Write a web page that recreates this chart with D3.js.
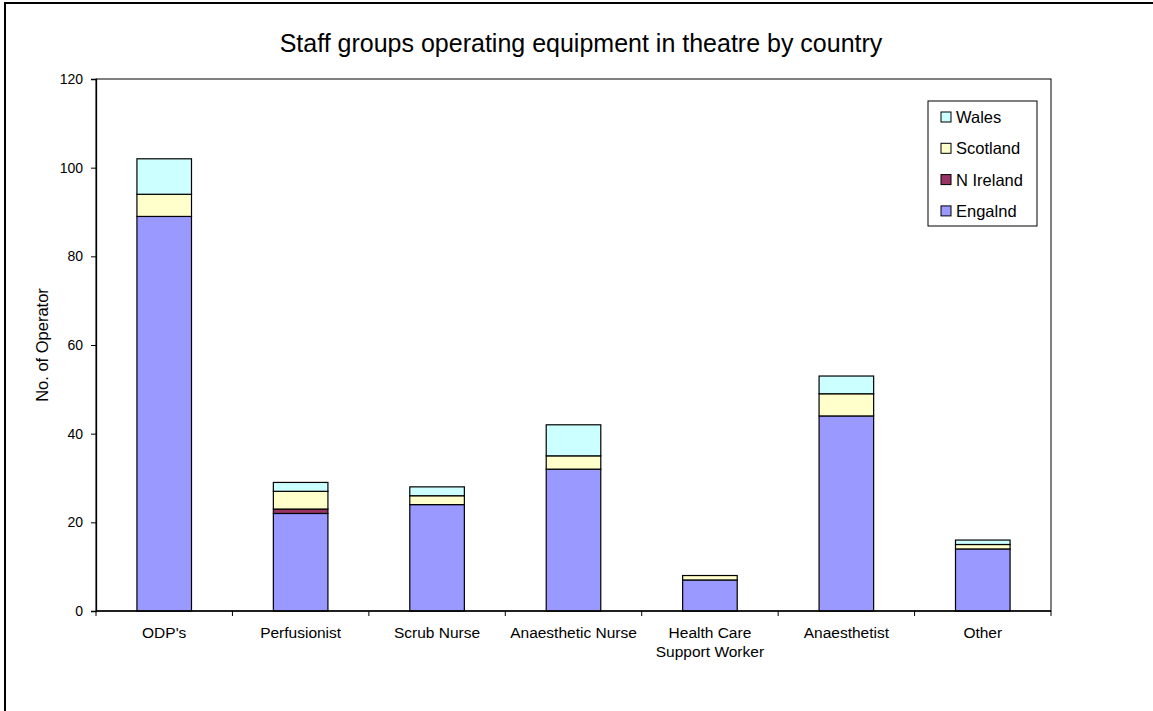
<!DOCTYPE html>
<html>
<head>
<meta charset="utf-8">
<script src="https://cdn.jsdelivr.net/npm/d3@7"></script>
<style>
  html, body { margin: 0; padding: 0; background: #fff; }
  svg { display: block; font-family: Arial, "Liberation Sans", sans-serif; }
</style>
</head>
<body>
<svg id="chart" width="1153" height="711"></svg>
<script>
// ---- data ----
const categories = ["ODP's", "Perfusionist", "Scrub Nurse", "Anaesthetic Nurse", "Health Care Support Worker", "Anaesthetist", "Other"];
const england  = [89, 22, 24, 32, 7, 44, 14];
const nIreland = [0, 1, 0, 0, 0, 0, 0];
const scotland = [5, 4, 2, 3, 1, 5, 1];
const wales    = [8, 2, 2, 7, 0, 4, 1];
const seriesNames = ["Engalnd", "N Ireland", "Scotland", "Wales"];
const seriesColors = ["#9999FF", "#993366", "#FFFFCC", "#CCFFFF"];
const yTicks = [0, 20, 40, 60, 80, 100, 120];
const titleText = "Staff groups operating equipment in theatre by country";
const yLabel = "No. of Operator";

// ---- layout ----
const svg = d3.select("#chart");
const plot = { left: 96, right: 1051, top: 79, bottom: 611 };

// outer chart frame (right/bottom run off the picture)
svg.append("rect")
  .attr("x", 5).attr("y", 3)
  .attr("width", 1160).attr("height", 720)
  .attr("fill", "#fff").attr("stroke", "#000").attr("stroke-width", 2);

const x = d3.scaleBand().domain(categories).range([plot.left, plot.right]).paddingInner(0).paddingOuter(0);
const y = d3.scaleLinear().domain([0, 120]).range([plot.bottom, plot.top]);

// stacked data
const rows = categories.map((c, i) => ({
  cat: c,
  "Engalnd": england[i],
  "N Ireland": nIreland[i],
  "Scotland": scotland[i],
  "Wales": wales[i]
}));
const stack = d3.stack().keys(seriesNames)(rows);

// plot area border
svg.append("rect")
  .attr("x", plot.left).attr("y", plot.top)
  .attr("width", plot.right - plot.left).attr("height", plot.bottom - plot.top)
  .attr("fill", "none").attr("stroke", "#000").attr("stroke-width", 1);

// bars
const barW = x.bandwidth() * 0.4;
stack.forEach((layer, si) => {
  svg.append("g").selectAll("rect")
    .data(layer.filter(d => d[1] - d[0] > 0))
    .join("rect")
    .attr("x", d => x(d.data.cat) + (x.bandwidth() - barW) / 2)
    .attr("y", d => y(d[1]))
    .attr("width", barW)
    .attr("height", d => y(d[0]) - y(d[1]))
    .attr("fill", seriesColors[si])
    .attr("stroke", "#000")
    .attr("stroke-width", 1.2);
});

// y axis
const yAxis = svg.append("g")
  .attr("transform", `translate(${plot.left},0)`)
  .call(d3.axisLeft(y).tickValues(yTicks).tickSize(5).tickPadding(8).tickFormat(d3.format("d")));
yAxis.select(".domain").attr("stroke", "#000").attr("stroke-width", 1.3);
yAxis.selectAll(".tick line").attr("stroke", "#000");
yAxis.selectAll(".tick text").attr("font-size", "14px").attr("fill", "#000")
  .attr("font-family", "Arial, 'Liberation Sans', sans-serif");

// x axis (ticks at category boundaries)
const xAxisG = svg.append("g").attr("transform", `translate(0,${plot.bottom})`);
xAxisG.append("line").attr("x1", plot.left).attr("x2", plot.right)
  .attr("stroke", "#000").attr("stroke-width", 1.3);
const bounds = categories.map(c => x(c)).concat([x(categories[categories.length - 1]) + x.bandwidth()]);
xAxisG.selectAll("line.tk").data(bounds).join("line").attr("class", "tk")
  .attr("x1", d => d).attr("x2", d => d).attr("y1", 0).attr("y2", 5)
  .attr("stroke", "#000");

// category labels with wrapping
const labelFont = 15.5;
const tmp = svg.append("text").attr("font-size", labelFont + "px");
function textW(s) { tmp.text(s); return tmp.node().getComputedTextLength(); }
categories.forEach(c => {
  const words = c.split(" ");
  const lines = [];
  let cur = "";
  words.forEach(w => {
    const test = cur ? cur + " " + w : w;
    if (textW(test) > x.bandwidth() - 2 && cur) { lines.push(cur); cur = w; }
    else cur = test;
  });
  lines.push(cur);
  const t = xAxisG.append("text")
    .attr("x", x(c) + x.bandwidth() / 2)
    .attr("y", 27)
    .attr("text-anchor", "middle")
    .attr("font-size", labelFont + "px")
    .attr("fill", "#000");
  lines.forEach((ln, i) => {
    t.append("tspan").attr("x", x(c) + x.bandwidth() / 2).attr("dy", i === 0 ? 0 : 19).text(ln);
  });
});
tmp.remove();

// title
svg.append("text")
  .attr("x", 581).attr("y", 52)
  .attr("text-anchor", "middle")
  .attr("font-size", "25px")
  .attr("fill", "#000")
  .text(titleText);

// y label
svg.append("text")
  .attr("transform", `translate(48,${(plot.top + plot.bottom) / 2}) rotate(-90)`)
  .attr("text-anchor", "middle")
  .attr("font-size", "16.5px")
  .attr("fill", "#000")
  .text(yLabel);

// legend
const lg = svg.append("g");
lg.append("rect").attr("x", 928).attr("y", 101).attr("width", 109).attr("height", 125)
  .attr("fill", "#fff").attr("stroke", "#000").attr("stroke-width", 1);
const legendOrder = [3, 2, 1, 0];
legendOrder.forEach((si, i) => {
  const cy = 117 + i * 31.3;
  lg.append("rect").attr("x", 941).attr("y", cy - 5).attr("width", 10).attr("height", 10)
    .attr("fill", seriesColors[si]).attr("stroke", "#000").attr("stroke-width", 1);
  lg.append("text").attr("x", 956).attr("y", cy + 6)
    .attr("font-size", "16.5px").attr("fill", "#000").text(seriesNames[si]);
});
</script>
</body>
</html>
